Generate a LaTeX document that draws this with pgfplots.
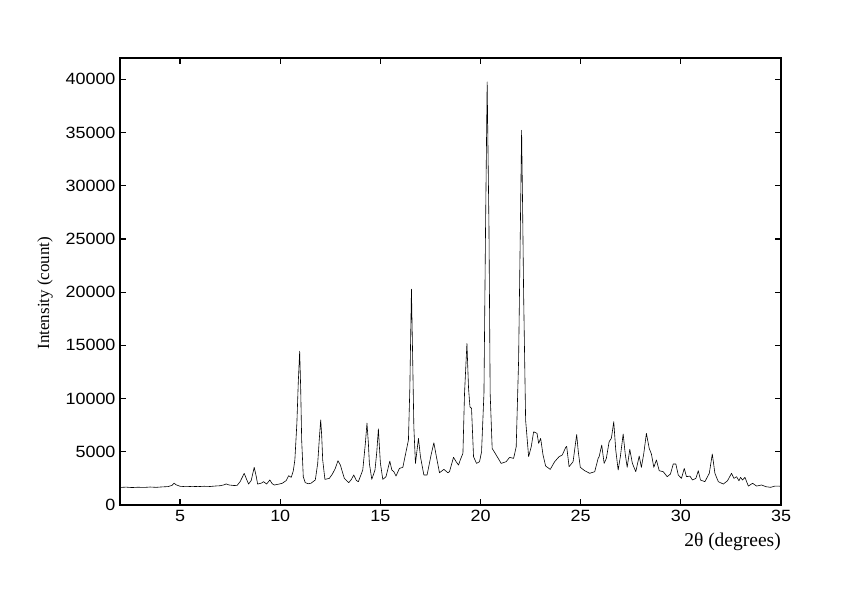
\documentclass[border=0pt]{standalone}
\usepackage{fontspec}
\setmainfont{Liberation Serif}
\newfontfamily\ticksf{Liberation Sans}[FakeStretch=1.1]
\usepackage{pgfplots}
\pgfplotsset{compat=1.18}
\begin{document}
\begin{tikzpicture}[x=1pt,y=1pt]
\useasboundingbox (-120pt,-90pt) rectangle (722pt,505pt);
\begin{axis}[
  at={(0pt,0pt)}, anchor=south west,
  scale only axis, width=661pt, height=447pt,
  xmin=2, xmax=35, ymin=0, ymax=42000,
  xtick={5,10,...,35}, ytick={0,5000,...,40000},
  tick align=inside, major tick length=6pt,
  minor tick num=0,
  axis line style={line width=1.5pt},
  every tick/.style={black, line width=1.2pt},
  scaled y ticks=false,
  /pgf/number format/assume math mode=true,
  /pgf/number format/set thousands separator={},
  ticklabel style={font=\ticksf\fontsize{16.3}{19}\selectfont},
  xticklabel style={yshift=-2pt},
  yticklabel style={xshift=-1pt},
  xlabel={2θ (degrees)},
  ylabel={Intensity (count)},
  xlabel style={at={(rel axis cs:1,0)}, anchor=base east, inner xsep=0pt, yshift=-41pt, font=\fontsize{19.5}{22}\selectfont},
  ylabel style={at={(axis description cs:-0.1135,0.474)}, anchor=center, font=\fontsize{17}{20}\selectfont},
]
\addplot[black, line width=0.6pt, line join=round] coordinates {
(2.0,1650)(2.3,1680)(2.6,1640)(2.9,1670)(3.2,1650)(3.5,1690)(3.8,1660)(4.1,1700)(4.4,1730)(4.6,1850)(4.7,2050)(4.8,1900)
(5.0,1760)(5.3,1720)(5.6,1750)(5.9,1730)(6.2,1760)(6.5,1740)(6.8,1790)(7.0,1810)(7.2,1900)(7.3,1980)(7.45,1880)(7.7,1830)
(7.85,1850)(8.0,2200)(8.2,2970)(8.3,2500)(8.42,1970)(8.55,2300)(8.7,3540)(8.8,2700)(8.87,1970)(9.05,2050)(9.17,2190)(9.32,1970)
(9.48,2350)(9.6,2000)(9.7,1880)(9.9,1950)(10.1,2040)(10.3,2300)(10.42,2750)(10.55,2600)(10.65,3200)(10.73,4230)(10.83,7670)
(10.9,11500)(10.97,14450)(11.02,11000)(11.07,6100)(11.15,2660)(11.25,2100)(11.4,2000)(11.53,2040)(11.75,2350)(11.87,3900)
(11.95,6200)(12.02,8000)(12.07,6500)(12.12,4230)(12.23,2410)(12.45,2500)(12.6,2900)(12.75,3440)(12.88,4160)(13.0,3760)
(13.2,2500)(13.42,2100)(13.55,2400)(13.67,2820)(13.8,2300)(13.9,2190)(14.12,3290)(14.25,5800)(14.33,7700)(14.4,5800)
(14.45,3900)(14.57,2410)(14.73,3290)(14.82,5000)(14.9,7150)(14.95,5500)(15.0,3940)(15.12,2410)(15.28,2660)(15.47,4130)
(15.57,3290)(15.67,3130)(15.78,2720)(15.95,3440)(16.12,3540)(16.28,5010)(16.4,6100)(16.47,11000)(16.55,20280)(16.6,15000)
(16.67,7350)(16.75,3910)(16.9,6260)(17.0,4540)(17.17,2820)(17.33,2820)(17.53,4700)(17.67,5850)(17.78,4700)(17.95,3030)
(18.17,3350)(18.37,3030)(18.45,3130)(18.65,4480)(18.78,4070)(18.9,3760)(19.0,4300)(19.12,4850)(19.2,10490)(19.32,15180)
(19.4,11000)(19.47,9230)(19.55,9080)(19.65,4540)(19.8,3910)(19.95,4070)(20.05,5000)(20.17,10490)(20.25,26130)(20.33,39750)
(20.42,26130)(20.48,10490)(20.58,5320)(20.78,4700)(21.03,3910)(21.28,4070)(21.45,4480)(21.65,4380)(21.78,5470)(21.9,13620)
(21.98,25000)(22.05,35210)(22.1,28000)(22.15,19880)(22.25,7980)(22.4,4540)(22.53,5470)(22.65,6880)(22.82,6730)(22.9,5790)
(23.0,6260)(23.12,4700)(23.25,3660)(23.48,3350)(23.7,4070)(23.92,4540)(24.08,4700)(24.25,5410)(24.3,5500)(24.42,3600)
(24.62,4070)(24.72,5500)(24.8,6620)(24.88,5000)(24.98,3540)(25.2,3220)(25.45,2980)(25.7,3130)(25.87,4380)(25.92,4540)
(26.05,5630)(26.17,3910)(26.28,4380)(26.42,5950)(26.53,6260)(26.65,7820)(26.75,5160)(26.87,3290)(26.98,4540)(27.12,6670)
(27.22,4850)(27.32,3540)(27.45,5230)(27.58,3910)(27.75,3130)(27.92,4600)(28.03,3540)(28.15,4850)(28.28,6730)(28.42,5320)
(28.53,4790)(28.65,3540)(28.78,4230)(28.92,3220)(29.12,3130)(29.32,2660)(29.48,2910)(29.62,3850)(29.75,3850)(29.87,2820)
(30.03,2500)(30.17,3440)(30.28,2660)(30.45,2720)(30.58,2350)(30.75,2500)(30.87,3220)(30.98,2350)(31.2,2190)(31.42,2980)
(31.57,4790)(31.7,2980)(31.87,2190)(32.12,1970)(32.33,2280)(32.53,2980)(32.65,2500)(32.78,2660)(32.9,2280)(32.98,2600)
(33.08,2350)(33.2,2600)(33.37,1780)(33.58,2040)(33.78,1780)(34.03,1880)(34.25,1720)(34.48,1660)(34.7,1780)(34.92,1780)(35.0,1700)
};
\end{axis}
\end{tikzpicture}
\end{document}
